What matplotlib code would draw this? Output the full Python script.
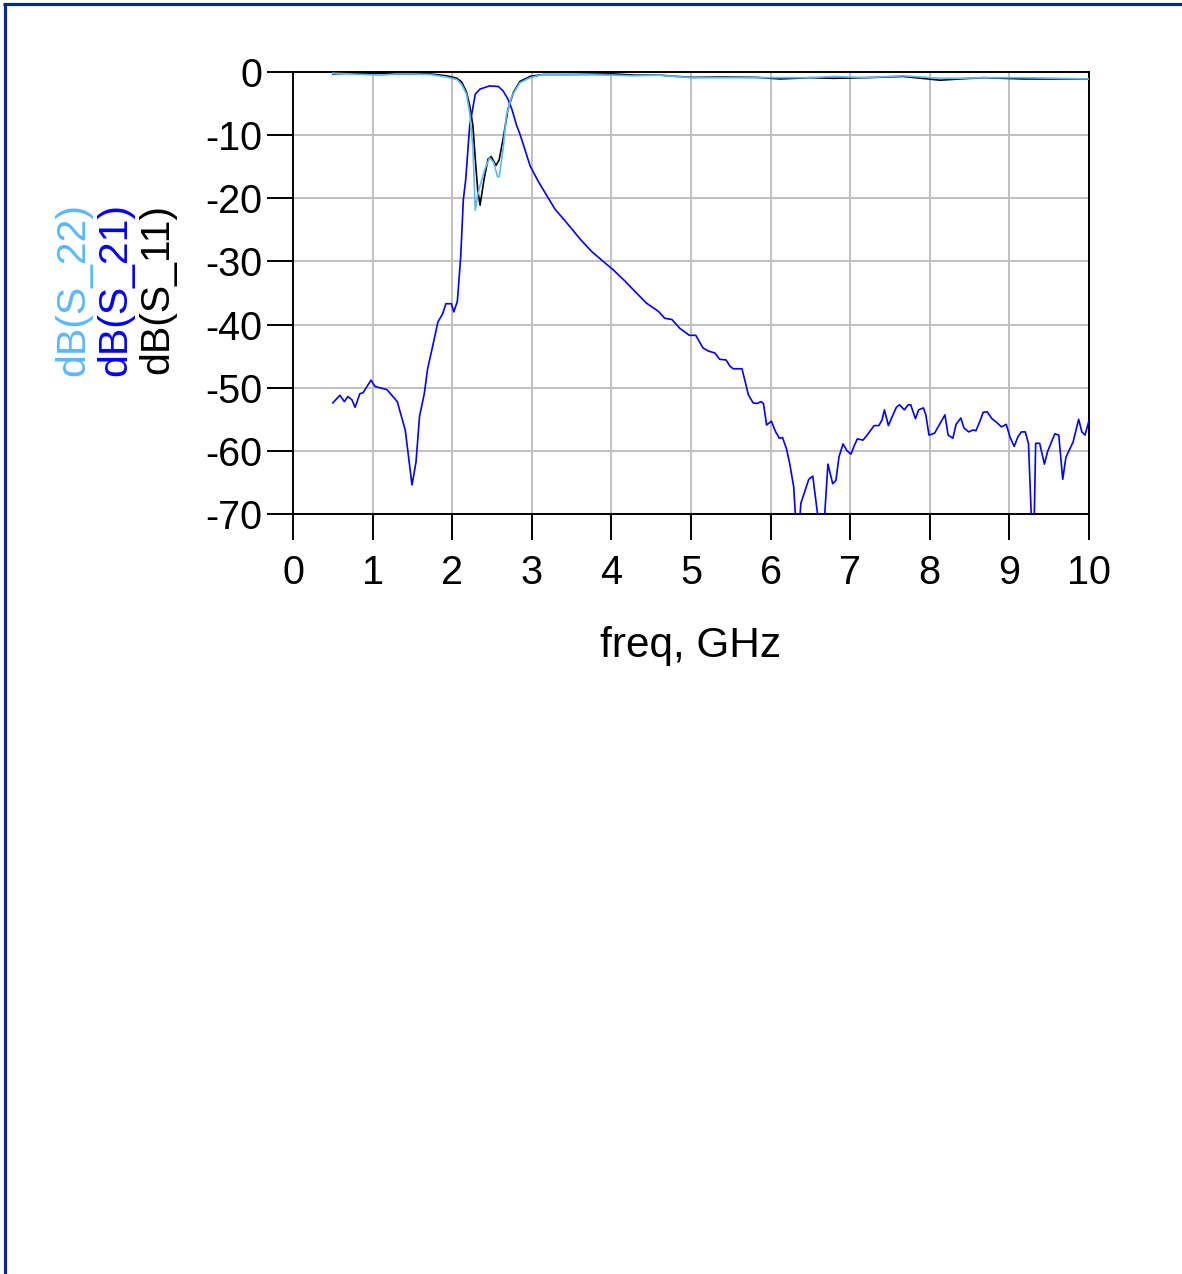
import matplotlib
matplotlib.use("Agg")
import matplotlib.pyplot as plt
from matplotlib.lines import Line2D

# ---- data ----
f21 = [0.50, 0.59, 0.645, 0.69, 0.74, 0.78, 0.84, 0.88, 0.98, 1.03, 1.09, 1.18, 1.31, 1.41,
       1.495, 1.545, 1.59, 1.65, 1.69, 1.755, 1.82, 1.88, 1.92, 1.99, 2.02, 2.065, 2.107, 2.14,
       2.17, 2.22, 2.29, 2.35, 2.47, 2.58, 2.64, 2.70, 2.75, 2.81, 2.85, 2.94, 2.98, 3.08, 3.19,
       3.29, 3.44, 3.61, 3.75, 3.86, 4.02, 4.17, 4.23, 4.44, 4.59, 4.67, 4.76, 4.86, 4.98, 5.06,
       5.15, 5.22, 5.30, 5.36, 5.44, 5.49, 5.53, 5.64, 5.68, 5.72, 5.78, 5.83, 5.88, 5.91, 5.95,
       6.01, 6.06, 6.11, 6.15, 6.20, 6.24, 6.29, 6.32, 6.36, 6.38, 6.48, 6.53, 6.61, 6.67, 6.72,
       6.78, 6.82, 6.86, 6.91, 6.96, 7.01, 7.05, 7.09, 7.16, 7.20, 7.26, 7.30, 7.36, 7.40, 7.43,
       7.48, 7.53, 7.58, 7.62, 7.68, 7.73, 7.76, 7.82, 7.86, 7.92, 7.95, 7.99, 8.06, 8.19, 8.23,
       8.29, 8.33, 8.39, 8.43, 8.49, 8.54, 8.58, 8.63, 8.67, 8.72, 8.78, 8.84, 8.90, 8.96, 9.01,
       9.06, 9.11, 9.15, 9.20, 9.24, 9.28, 9.31, 9.33, 9.38, 9.44, 9.48, 9.57, 9.62, 9.67, 9.71,
       9.80, 9.87, 9.91, 9.95, 10.0]
s21 = [-52.4, -51.2, -52.2, -51.4, -51.9, -53.1, -50.95, -50.8, -48.8, -49.8, -50.0, -50.3, -52.2, -56.7,
       -65.4, -61.8, -54.5, -50.9, -47.1, -43.4, -39.6, -38.3, -36.7, -36.7, -38.0, -36.3, -29.2, -20.2,
       -17.0, -8.5, -3.5, -2.7, -2.2, -2.3, -3.0, -4.3, -5.9, -8.5, -9.8, -13.3, -14.9, -17.3, -19.6,
       -21.7, -23.9, -26.5, -28.4, -29.6, -31.3, -33.1, -33.9, -36.6, -37.9, -39.0, -39.2, -40.6, -41.7, -41.7,
       -43.7, -44.2, -44.5, -45.5, -45.6, -46.6, -47.0, -47.0, -49.0, -51.1, -52.4, -52.5, -52.2, -52.5, -55.9,
       -55.3, -56.9, -58.0, -57.9, -59.7, -62.0, -65.7, -72.0, -72.0, -68.3, -64.5, -64.0, -72.0, -72.0, -62.1,
       -65.2, -64.7, -60.9, -58.9, -60.0, -60.5, -59.2, -58.1, -58.3, -57.7, -56.7, -56.0, -56.0, -55.1, -53.5,
       -56.0, -54.5, -53.1, -52.7, -53.5, -52.7, -52.7, -54.9, -53.5, -53.2, -54.3, -57.5, -57.2, -54.3, -57.5,
       -58.0, -55.8, -54.8, -56.4, -57.0, -56.7, -56.8, -55.3, -53.9, -53.8, -54.9, -55.5, -56.2, -55.8, -57.9,
       -59.3, -57.7, -57.0, -57.0, -58.9, -72.0, -72.0, -58.8, -58.8, -62.1, -60.1, -57.3, -57.5, -64.5, -61.0,
       -58.6, -55.0, -57.0, -57.5, -55.2]

f11 = [0.5, 0.7, 0.9, 1.1, 1.3, 1.5, 1.72, 1.93, 2.06, 2.12, 2.18, 2.22, 2.26, 2.29, 2.32, 2.35, 2.40,
       2.45, 2.49, 2.55, 2.59, 2.64, 2.70, 2.77, 2.85, 2.98, 3.14, 3.5, 4.02, 4.3, 4.61, 5.0, 5.4, 5.82,
       6.12, 6.5, 6.79, 7.2, 7.66, 7.9, 8.13, 8.38, 8.67, 9.17, 9.6, 10.0]
s11 = [-0.3, -0.2, -0.3, -0.2, -0.3, -0.3, -0.3, -0.6, -1.0, -1.6, -3.2, -5.3, -8.5, -13.8, -18.6, -21.1, -17.0,
       -13.8, -13.4, -14.8, -13.9, -10.6, -5.9, -3.2, -1.5, -0.7, -0.4, -0.4, -0.3, -0.5, -0.5, -0.85, -0.8, -0.85,
       -1.1, -0.9, -1.0, -0.9, -0.7, -1.0, -1.3, -1.1, -0.9, -1.1, -1.1, -1.1]

f22 = [0.5, 0.7, 0.9, 1.1, 1.3, 1.5, 1.72, 1.93, 2.06, 2.12, 2.18, 2.22, 2.26, 2.29, 2.32, 2.35, 2.41,
       2.47, 2.52, 2.57, 2.59, 2.64, 2.68, 2.75, 2.85, 2.98, 3.14, 3.5, 4.02, 4.3, 4.61, 5.0, 5.4, 5.82,
       6.12, 6.5, 6.79, 7.2, 7.66, 7.9, 8.13, 8.38, 8.67, 9.17, 9.6, 10.0]
s22 = [-0.2, -0.3, -0.4, -0.5, -0.3, -0.3, -0.4, -0.8, -1.2, -2.0, -3.5, -6.5, -12.0, -21.9, -19.5, -18.0, -15.4,
       -13.6, -14.3, -16.6, -16.6, -12.2, -6.9, -3.8, -1.7, -0.9, -0.4, -0.4, -0.5, -0.6, -0.5, -0.9, -0.9, -0.9,
       -0.9, -0.9, -0.7, -0.9, -0.6, -0.8, -1.0, -1.0, -0.9, -0.9, -1.0, -1.1]

xticks = [0, 1, 2, 3, 4, 5, 6, 7, 8, 9, 10]
yticks = [0, -10, -20, -30, -40, -50, -60, -70]
ylabels = ["dB(S_22)", "dB(S_21)", "dB(S_11)"]
ycolors = ["#5cb8ff", "#0000ff", "#000000"]

plt.rcParams['font.family'] = ['Liberation Sans', 'DejaVu Sans']

W, H = 1182, 1274
fig = plt.figure(figsize=(W / 100, H / 100), dpi=100)
ax = fig.add_axes([293 / W, 1 - 514 / H, (1089 - 293) / W, (514 - 72) / H])

ax.plot(f11, s11, color="#000000", lw=1.2, zorder=3)
ax.plot(f21, s21, color="#0000ff", lw=1.2, zorder=4)
ax.plot(f22, s22, color="#5cb8ff", lw=1.2, zorder=5)

ax.set_xlim(0, 10)
ax.set_ylim(-70, 0)
ax.set_xticks(xticks)
ax.set_yticks(yticks)
ax.set_xticklabels([str(t) for t in xticks])
ax.set_yticklabels([str(t) for t in yticks])
ax.grid(True, color="#c0c0c0", lw=1.4)
ax.set_axisbelow(True)
for s in ax.spines.values():
    s.set_linewidth(1.4)
    s.set_color("black")
ax.tick_params(axis='both', direction='out', length=19, width=1.4, labelsize=28.5, color='black')
ax.tick_params(axis='x', pad=10)
ax.tick_params(axis='y', pad=3)

ax.set_xlabel("freq, GHz", fontsize=30.5, labelpad=24)

xs = [73, 115, 157]
for x, txt, c in zip(xs, ylabels, ycolors):
    fig.text(x / W, 1 - 289 / H, txt, rotation=90, color=c, fontsize=29.5,
             ha='center', va='center')

# outer frame (left and top edges)
fc = "#0a2a8a"
fig.add_artist(Line2D([4.5 / W, 4.5 / W], [0, 1 - 3.5 / H], transform=fig.transFigure,
                      color=fc, lw=2.3, solid_capstyle='butt'))
fig.add_artist(Line2D([3 / W, 1], [1 - 3.5 / H, 1 - 3.5 / H], transform=fig.transFigure,
                      color=fc, lw=2.3, solid_capstyle='butt'))

fig.savefig("out.png", dpi=100)
